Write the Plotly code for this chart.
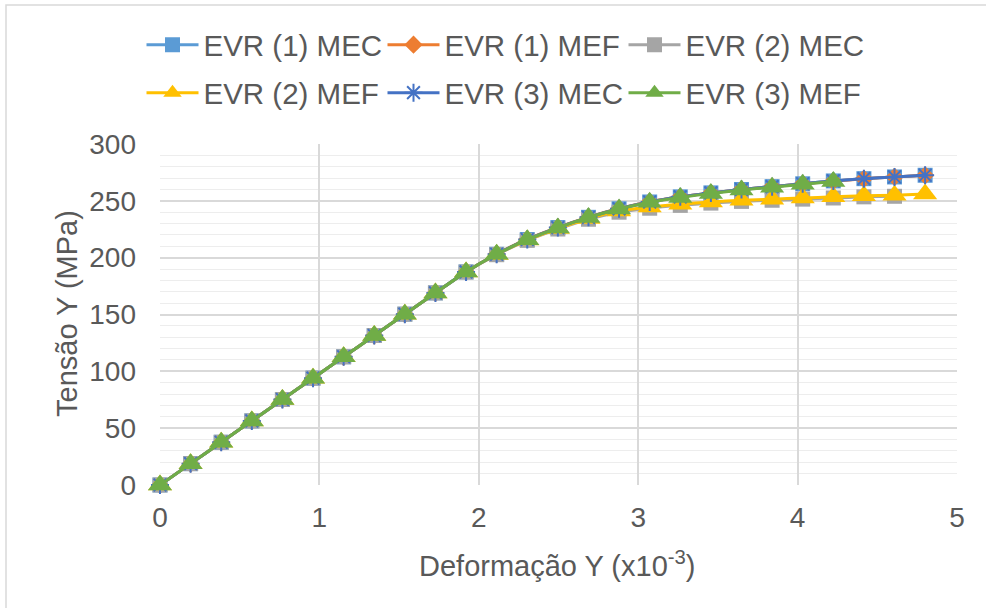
import plotly.graph_objects as go

# Strain (x10^-3) at each load step
strain = [0.000, 0.192, 0.384, 0.576, 0.768, 0.960, 1.152, 1.344, 1.536, 1.728,
          1.920, 2.112, 2.304, 2.496, 2.688, 2.880, 3.072, 3.264, 3.456, 3.648,
          3.840, 4.032, 4.224, 4.416, 4.608, 4.800]

# Stress (MPa) per specimen / method
evr1_mec = [0, 18.8, 37.6, 56.4, 75.2, 94.0, 112.8, 131.5, 150.3, 169.0,
            187.5, 203.0, 216.0, 226.5, 235.5, 243.0, 249.0, 253.5, 257.0, 260.0,
            262.5, 265.0, 267.5, 269.5, 271.0, 272.5]
evr1_mef = [0, 18.8, 37.6, 56.4, 75.2, 94.0, 112.8, 131.5, 150.3, 169.0,
            187.6, 203.2, 216.2, 226.6, 235.6, 243.2, 249.2, 253.6, 257.0, 260.0,
            262.6, 265.0, 267.4, 269.4, 271.0, 272.4]
evr2_mec = [0, 18.8, 37.6, 56.4, 75.2, 94.0, 112.8, 131.5, 150.3, 169.0,
            187.3, 202.6, 215.2, 225.2, 233.8, 240.0, 243.5, 246.0, 248.0, 249.5,
            250.5, 251.5, 252.5, 253.5, 254.0]
evr2_mef = [0, 18.8, 37.6, 56.4, 75.2, 94.0, 112.8, 131.5, 150.3, 169.0,
            187.4, 202.8, 215.5, 225.6, 234.4, 241.0, 244.5, 247.0, 249.0, 250.5,
            251.5, 252.5, 253.5, 254.5, 255.0, 256.0]
evr3_mec = [0, 18.8, 37.6, 56.4, 75.2, 94.0, 112.8, 131.5, 150.3, 169.0,
            187.5, 203.0, 216.0, 226.5, 235.5, 243.0, 249.0, 253.5, 257.0, 260.0,
            262.5, 265.0, 267.5, 269.5, 271.0, 272.5]
evr3_mef = [0, 18.8, 37.6, 56.4, 75.2, 94.0, 112.8, 131.5, 150.3, 169.0,
            187.5, 203.0, 215.8, 226.2, 235.4, 242.8, 248.8, 253.0, 256.5, 259.5,
            262.0, 264.5, 267.0]

x_ticks = [0, 1, 2, 3, 4, 5]
y_ticks = [0, 50, 100, 150, 200, 250, 300]

FONT = "Arial, Liberation Sans, sans-serif"
TXT = "#595959"

# name, values, colour, marker symbol, marker size, legend row
series = [
    ("EVR (1) MEC", evr1_mec, "#5B9BD5", "square", 15, "legend"),
    ("EVR (1) MEF", evr1_mef, "#ED7D31", "diamond", 14, "legend"),
    ("EVR (2) MEC", evr2_mec, "#A5A5A5", "square", 15, "legend"),
    ("EVR (2) MEF", evr2_mef, "#FFC000", "triangle-up", 21, "legend2"),
    ("EVR (3) MEC", evr3_mec, "#4472C4", "asterisk-open", 15, "legend2"),
    ("EVR (3) MEF", evr3_mef, "#70AD47", "triangle-up", 21, "legend2"),
]

fig = go.Figure()
for name, ys, color, symbol, size, lg in series:
    marker = dict(symbol=symbol, size=size, color=color)
    if symbol == "asterisk-open":
        marker.update(line=dict(color=color, width=2))
    else:
        marker.update(line=dict(width=0))
    fig.add_trace(go.Scatter(
        x=strain[:len(ys)], y=ys, name=name, mode="lines+markers",
        line=dict(color=color, width=3, shape="spline", smoothing=0.6),
        marker=marker, legend=lg, cliponaxis=False,
    ))

W, H = 986, 608
ml, mr, mt, mb = 160, 29, 144, 123
pw, ph = W - ml - mr, H - mt - mb


def px_x(p):
    return (p - ml) / pw


def px_y(p):
    return (H - mb - p) / ph


legend_common = dict(
    orientation="h", xanchor="center", yanchor="middle", x=px_x(W / 2 + 10),
    font=dict(family=FONT, size=29.5, color=TXT), bgcolor="rgba(0,0,0,0)",
    entrywidth=174, entrywidthmode="pixels", itemwidth=52,
)

fig.update_layout(
    width=W, height=H,
    margin=dict(l=ml, r=mr, t=mt, b=mb),
    paper_bgcolor="white", plot_bgcolor="white",
    font=dict(family=FONT, size=28, color=TXT),
    legend=dict(legend_common, y=px_y(45)),
    legend2=dict(legend_common, y=px_y(93)),
    xaxis=dict(
        range=[0, 5], tickvals=x_ticks, ticktext=[str(v) for v in x_ticks],
        showgrid=True, gridcolor="#D9D9D9", gridwidth=1.5,
        zeroline=False, showline=False, ticks="", ticklabelstandoff=13,
        tickfont=dict(family=FONT, size=28, color=TXT),
    ),
    yaxis=dict(
        range=[0, 300], tickvals=y_ticks, ticktext=[str(v) for v in y_ticks],
        showgrid=True, gridcolor="#D9D9D9", gridwidth=1.5,
        minor=dict(dtick=10, showgrid=True, gridcolor="#EDEDED", gridwidth=1),
        zeroline=False, showline=False, ticks="", ticklabelstandoff=23,
        tickfont=dict(family=FONT, size=28, color=TXT),
    ),
    annotations=[
        dict(text="Deformação Y (x10<sup>-3</sup>)", xref="paper", yref="paper",
             x=px_x(557), y=px_y(564), xanchor="center", yanchor="middle",
             showarrow=False, font=dict(family=FONT, size=29, color=TXT)),
        dict(text="Tensão Y (MPa)", xref="paper", yref="paper",
             x=px_x(67), y=px_y(314), xanchor="center", yanchor="middle",
             textangle=-90, showarrow=False,
             font=dict(family=FONT, size=29, color=TXT)),
    ],
    shapes=[
        dict(type="rect", xref="paper", yref="paper",
             x0=px_x(6), x1=px_x(W + 10), y0=px_y(H + 10), y1=px_y(5),
             line=dict(color="#D9D9D9", width=1.5), fillcolor="rgba(0,0,0,0)",
             layer="below"),
    ],
)

fig.write_html("out.html")
